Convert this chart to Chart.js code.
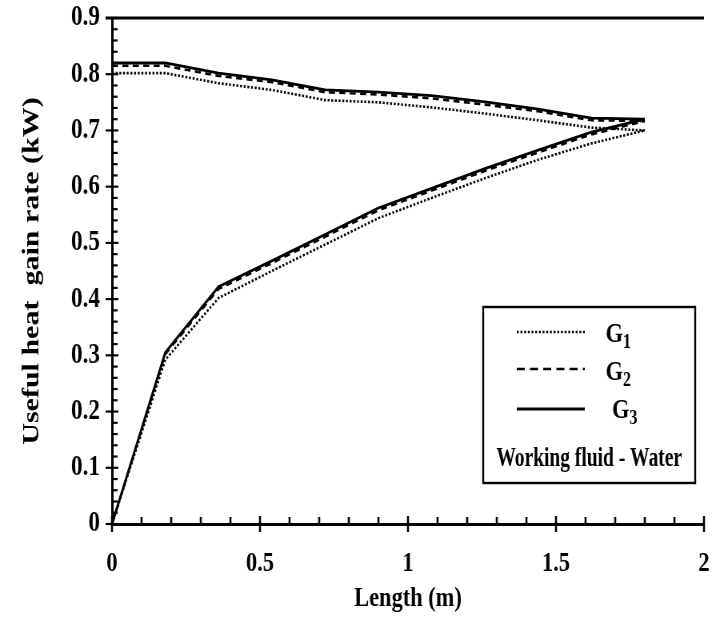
<!DOCTYPE html>
<html>
  <head>
    <title>Useful heat gain rate</title>
    <style>
      html, body { margin: 0; padding: 0; background: #fff; overflow: hidden; }
      /* narrow serif lettering: draw wide, squeeze horizontally */
      #wrap { width: 890px; height: 630px; transform: scaleX(0.8); transform-origin: 0 0; }
    </style>
    <script src="https://cdn.jsdelivr.net/npm/chart.js"></script>
  </head>
  <body>
    <div id="wrap"><canvas id="myChart" width="890" height="630"></canvas></div>
    <script>
      const lengths = [0, 0.18, 0.36, 0.54, 0.72, 0.9, 1.08, 1.26, 1.44, 1.62, 1.8];

      // upper branch
      const g1Upper = [0.802, 0.802, 0.784, 0.772, 0.754, 0.750, 0.741, 0.730, 0.718, 0.705, 0.700];
      const g2Upper = [0.815, 0.815, 0.797, 0.786, 0.768, 0.764, 0.757, 0.746, 0.734, 0.718, 0.717];
      const g3Upper = [0.820, 0.820, 0.802, 0.790, 0.772, 0.768, 0.762, 0.751, 0.738, 0.722, 0.720];

      // lower branch
      const g1Lower = [0, 0.292, 0.402, 0.450, 0.497, 0.544, 0.580, 0.615, 0.648, 0.677, 0.700];
      const g2Lower = [0, 0.302, 0.418, 0.464, 0.511, 0.558, 0.593, 0.628, 0.661, 0.693, 0.717];
      const g3Lower = [0, 0.305, 0.422, 0.468, 0.515, 0.562, 0.597, 0.632, 0.665, 0.697, 0.720];

      const seriesNames = ['G1', 'G2', 'G3'];
      const yTickLabels = ['0', '0.1', '0.2', '0.3', '0.4', '0.5', '0.6', '0.7', '0.8', '0.9'];
      const xTickLabels = ['0', '0.5', '1', '1.5', '2'];

      const FONT = '"Liberation Serif", "Times New Roman", serif';

      const styles = {
        G1: { borderDash: [2.4, 2.2], borderWidth: 2.6 },
        G2: { borderDash: [7.5, 5.5], borderWidth: 2.6 },
        G3: { borderDash: [], borderWidth: 2.8 }
      };

      function makeSet(name, values) {
        return {
          label: name,
          data: lengths.map((x, i) => ({ x: x, y: values[i] })),
          borderColor: '#000',
          borderWidth: styles[name].borderWidth,
          borderDash: styles[name].borderDash,
          pointRadius: 0,
          tension: 0,
          fill: false
        };
      }

      const datasets = [
        makeSet('G1', g1Upper), makeSet('G1', g1Lower),
        makeSet('G2', g2Upper), makeSet('G2', g2Lower),
        makeSet('G3', g3Upper), makeSet('G3', g3Lower)
      ];

      // frame top line, tick marks on both axes and the boxed legend
      const axisMarks = {
        id: 'axisMarks',
        afterDraw(chart) {
          const { ctx, chartArea: a, scales: { x, y } } = chart;
          ctx.save();
          ctx.strokeStyle = '#000';
          ctx.fillStyle = '#000';

          ctx.lineWidth = 3;
          ctx.beginPath();
          ctx.moveTo(a.left - 8, y.getPixelForValue(0.9));
          ctx.lineTo(a.right, y.getPixelForValue(0.9));
          ctx.stroke();

          ctx.lineWidth = 2.2;
          for (let i = 0; i <= 45; i++) {
            const py = y.getPixelForValue(i * 0.02);
            const major = i % 5 === 0;
            ctx.beginPath();
            ctx.moveTo(a.left - (major ? 8 : 0), py);
            ctx.lineTo(a.left + (major ? 8 : 7), py);
            ctx.stroke();
          }
          ctx.lineWidth = 2.6;
          for (let i = 0; i <= 20; i++) {
            const px = x.getPixelForValue(i * 0.1);
            const major = i % 5 === 0;
            ctx.beginPath();
            ctx.moveTo(px, a.bottom + (major ? 8 : 0));
            ctx.lineTo(px, a.bottom - (major ? 8 : 7));
            ctx.stroke();
          }

          // legend box
          const bx = a.right - 276, by = a.top + 289, bw = 265, bh = 176;
          ctx.lineWidth = 2.4;
          ctx.setLineDash([]);
          ctx.strokeRect(bx, by, bw, bh);

          const rows = [25, 62, 102];
          const textRows = [35, 73, 111];
          const textX = [757, 757, 765];
          seriesNames.forEach((name, i) => {
            const st = styles[name];
            ctx.lineWidth = st.borderWidth;
            ctx.setLineDash(name === 'G2' ? [10, 6.5] : st.borderDash);
            ctx.beginPath();
            ctx.moveTo(bx + 42, by + rows[i]);
            ctx.lineTo(bx + 127, by + rows[i]);
            ctx.stroke();
            ctx.setLineDash([]);

            const tx = textX[i] - 604 + bx;
            ctx.textAlign = 'left';
            ctx.textBaseline = 'alphabetic';
            ctx.font = 'bold 28px ' + FONT;
            ctx.fillText('G', tx, by + textRows[i]);
            const w = ctx.measureText('G').width;
            ctx.font = 'bold 20px ' + FONT;
            ctx.fillText(name.slice(1), tx + w, by + textRows[i] + 6);
          });

          // fluid note, a little narrower so it sits inside the box
          ctx.font = 'bold 28px ' + FONT;
          ctx.textAlign = 'center';
          ctx.translate(bx + bw / 2, by + 159);
          ctx.scale(0.87, 1);
          ctx.fillText('Working fluid - Water', 0, 0);
          ctx.restore();
        }
      };

      const ctx = document.getElementById('myChart').getContext('2d');
      new Chart(ctx, {
        type: 'line',
        data: { datasets },
        plugins: [axisMarks],
        options: {
          responsive: false,
          animation: false,
          devicePixelRatio: 1,
          layout: { padding: { top: 18, right: 10, left: 0, bottom: 0 } },
          plugins: { legend: { display: false }, tooltip: { enabled: false } },
          scales: {
            x: {
              type: 'linear',
              min: 0,
              max: 2,
              afterFit: s => {
                s.height = 106;
                s.paddingLeft = 0;
                s.paddingRight = 0;
              },
              grid: { drawOnChartArea: false, drawTicks: false },
              border: { color: '#000', width: 3 },
              ticks: {
                stepSize: 0.5,
                autoSkip: false,
                maxRotation: 0,
                padding: 23,
                color: '#000',
                font: { family: FONT, size: 28, weight: 'bold' },
                callback: (v, i) => xTickLabels[i]
              },
              title: {
                display: true,
                text: 'Length (m)',
                color: '#000',
                padding: { top: 0, bottom: 14 },
                font: { family: FONT, size: 28, weight: 'bold' }
              }
            },
            y: {
              min: 0,
              max: 0.9,
              afterFit: s => {
                s.width = 140;
                s.paddingTop = 0;
                s.paddingBottom = 0;
              },
              grid: { drawOnChartArea: false, drawTicks: false },
              border: { color: '#000', width: 3 },
              ticks: {
                stepSize: 0.1,
                autoSkip: false,
                padding: 15,
                color: '#000',
                font: { family: FONT, size: 29, weight: 'bold' },
                callback: (v, i) => yTickLabels[i]
              },
              title: {
                display: true,
                text: 'Useful heat  gain rate (kW)',
                color: '#000',
                padding: { top: 22, bottom: 0 },
                font: { family: FONT, size: 30, weight: 'bold' }
              }
            }
          }
        }
      });
    </script>
  </body>
</html>
